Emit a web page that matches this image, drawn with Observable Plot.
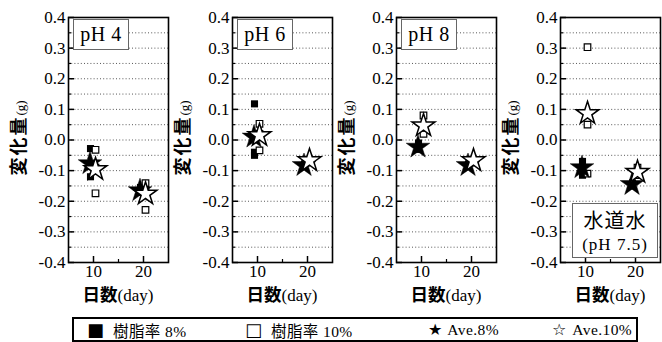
<!DOCTYPE html>
<html><head><meta charset="utf-8">
<script src="https://cdn.jsdelivr.net/npm/d3@7"></script>
<script src="https://cdn.jsdelivr.net/npm/@observablehq/plot@0.6"></script>
<style>
body{margin:0;background:#fff;}
#root{position:relative;width:662px;height:342px;overflow:hidden;background:#fff;}
.panel{position:absolute;top:0;}
.plabel{position:absolute;background:#fff;border:1.5px solid #666;box-sizing:border-box;color:#000;text-align:center;}
.ph{font-family:"Liberation Serif","Times New Roman",serif;font-size:20px;line-height:28px;letter-spacing:0.5px;}
.water1{font-family:"Noto Sans CJK JP",sans-serif;font-size:20px;line-height:29px;margin-top:1px;letter-spacing:1px;}
.water2{font-family:"Liberation Serif","Times New Roman",serif;font-size:17px;line-height:21px;letter-spacing:1px;}
#legend{position:absolute;left:72px;top:317px;width:566px;height:25px;border:2px solid #000;box-sizing:border-box;color:#000;}
.litem{position:absolute;top:0;height:21px;display:flex;align-items:center;white-space:nowrap;}
.lsym{font-family:"DejaVu Sans",sans-serif;}
.ltxt{font-family:"Liberation Serif","Noto Sans CJK JP",serif;font-size:15.5px;letter-spacing:0.4px;}
</style></head><body><div id="root"></div>
<script>
// ---- data ----
const panelNames = ["pH 4", "pH 6", "pH 8", "水道水"];
const panelSub = ["", "", "", "(pH 7.5)"];
const days = [10, 20];
// individual samples, per panel: [day10 samples, day20 samples]
const resin8 = [
  [[-0.028, -0.12, -0.085], [-0.155, -0.17, -0.17]],
  [[0.118, -0.05, -0.04], [-0.08, -0.085, -0.085]],
  [[-0.01, -0.03, -0.03], [-0.08, -0.085, -0.085]],
  [[-0.07, -0.09, -0.115], [-0.14, -0.145, -0.15]]
];
const resin10 = [
  [[-0.032, -0.174, -0.09], [-0.141, -0.228, -0.17]],
  [[0.053, -0.034, 0.02], [-0.065, -0.07, -0.065]],
  [[0.08, 0.02, 0.04], [-0.065, -0.07, -0.065]],
  [[0.303, 0.05, -0.11], [-0.09, -0.11, -0.115]]
];
// averages, per panel: [day10, day20]
const ave8 = [[-0.077, -0.165], [0.01, -0.083], [-0.023, -0.083], [-0.09, -0.145]];
const ave10 = [[-0.096, -0.176], [0.015, -0.067], [0.047, -0.067], [0.087, -0.105]];
const yTicks = [-0.4, -0.3, -0.2, -0.1, 0.0, 0.1, 0.2, 0.3, 0.4];
const yMinor = [-0.35, -0.25, -0.15, -0.05, 0.05, 0.15, 0.25, 0.35];
const yGrid = [-0.35, -0.3, -0.25, -0.2, -0.15, -0.1, -0.05, 0, 0.05, 0.1, 0.15, 0.2, 0.25, 0.3, 0.35];
const xTicks = [10, 20];
const xMinor = [15];
const yLabelMain = "変化量", yLabelUnit = "(g)";
const xLabelMain = "日数", xLabelUnit = "(day)";
const legendSymbols = ["■", "□", "★", "☆"];
const legendLabels = ["樹脂率 8%", "樹脂率 10%", "Ave.8%", "Ave.10%"];

// ---- layout (styling only) ----
const legendLeft = [13, 171, 354, 478];
const legendSymSize = [18, 18, 16, 16];
const legendGap = [9, 9, 5, 6];

// ---- helpers ----
const samples = (arr, p) => arr[p].flatMap((vals, di) => vals.map(v => ({day: days[di], v})));
const avgs = (arr, p) => arr[p].map((v, di) => ({day: days[di], v}));

const root = document.getElementById("root");
const serif = "'Liberation Serif', 'Times New Roman', serif";
const cjk = "'Noto Sans CJK JP', sans-serif";

panelNames.forEach((name, p) => {
  const svg = Plot.plot({
    width: 170, height: 300,
    marginLeft: 68, marginRight: 2, marginTop: 17, marginBottom: 38,
    x: {domain: [5, 25]},
    y: {domain: [-0.4, 0.4]},
    style: {background: "transparent", overflow: "visible", color: "#000"},
    marks: [
      Plot.ruleY(yGrid, {stroke: "#444", strokeWidth: 0.9, strokeDasharray: "1,2.2"}),
      Plot.tickY(yTicks, {y: d => d, insetRight: 94, stroke: "#000", strokeWidth: 1.5}),
      Plot.tickY(yMinor, {y: d => d, insetRight: 97, stroke: "#000", strokeWidth: 1.2}),
      Plot.tickX(xTicks, {x: d => d, insetTop: 239, stroke: "#000", strokeWidth: 1.5}),
      Plot.tickX(xMinor, {x: d => d, insetTop: 242, stroke: "#000", strokeWidth: 1.2}),
      Plot.axisY({ticks: yTicks, tickSize: 0, tickPadding: 3, tickFormat: d => d.toFixed(1), fontSize: 17, label: null}),
      Plot.axisX({ticks: xTicks, tickSize: 0, tickPadding: 2, tickFormat: d => String(d), fontSize: 17, label: null}),
      Plot.dot(samples(resin8, p), {x: "day", y: "v", symbol: "square", r: 4, fill: "#000", dx: -3}),
      Plot.dot(samples(resin10, p), {x: "day", y: "v", symbol: "square", r: 3.7, fill: "#fff", stroke: "#000", strokeWidth: 1.2, dx: 2}),
      Plot.dot(avgs(ave8, p), {x: "day", y: "v", symbol: "star", r: 7.4, fill: "#000", stroke: "#000", strokeWidth: 0.5, dx: -3.5}),
      Plot.dot(avgs(ave10, p), {x: "day", y: "v", symbol: "star", r: 7.2, fill: "#fff", stroke: "#000", strokeWidth: 1.5, dx: 2}),
      Plot.frame({stroke: "#000", strokeWidth: 1.6})
    ]
  });
  svg.classList.add("panel");
  svg.style.left = (p * 164) + "px";
  const s = d3.select(svg);
  s.selectAll("g").attr("font-family", null);
  s.selectAll("text").style("font-family", serif);
  const yl = s.append("text").attr("transform", "translate(25,138) rotate(-90)").attr("text-anchor", "middle").attr("fill", "#000");
  yl.append("tspan").text(yLabelMain).style("font-family", cjk).attr("font-weight", "bold").attr("font-size", 18).attr("letter-spacing", 2);
  yl.append("tspan").text(yLabelUnit).style("font-family", serif).attr("font-size", 13);
  const xl = s.append("text").attr("x", 118).attr("y", 301).attr("text-anchor", "middle").attr("fill", "#000");
  xl.append("tspan").text(xLabelMain).style("font-family", cjk).attr("font-weight", "bold").attr("font-size", 17.5);
  xl.append("tspan").text(xLabelUnit).style("font-family", serif).attr("font-size", 17);
  root.appendChild(svg);

  const lab = document.createElement("div");
  lab.className = "plabel";
  if (panelSub[p]) {
    lab.style.left = (p * 164 + 80) + "px";
    lab.style.top = "203px"; lab.style.width = "86px"; lab.style.height = "55px";
    lab.innerHTML = `<div class="water1"></div><div class="water2"></div>`;
    lab.children[0].textContent = name;
    lab.children[1].textContent = panelSub[p];
  } else {
    lab.style.left = (p * 164 + 73) + "px";
    lab.style.top = "19px"; lab.style.width = "56px"; lab.style.height = "31px";
    lab.innerHTML = `<div class="ph"></div>`;
    lab.children[0].textContent = name;
  }
  root.appendChild(lab);
});

const leg = document.createElement("div");
leg.id = "legend";
legendLabels.forEach((t, i) => {
  const it = document.createElement("span"); it.className = "litem";
  it.style.left = legendLeft[i] + "px";
  const sy = document.createElement("span"); sy.className = "lsym"; sy.textContent = legendSymbols[i];
  sy.style.fontSize = legendSymSize[i] + "px"; sy.style.marginRight = legendGap[i] + "px";
  const tx = document.createElement("span"); tx.className = "ltxt"; tx.textContent = t;
  it.appendChild(sy); it.appendChild(tx); leg.appendChild(it);
});
root.appendChild(leg);
</script></body></html>
